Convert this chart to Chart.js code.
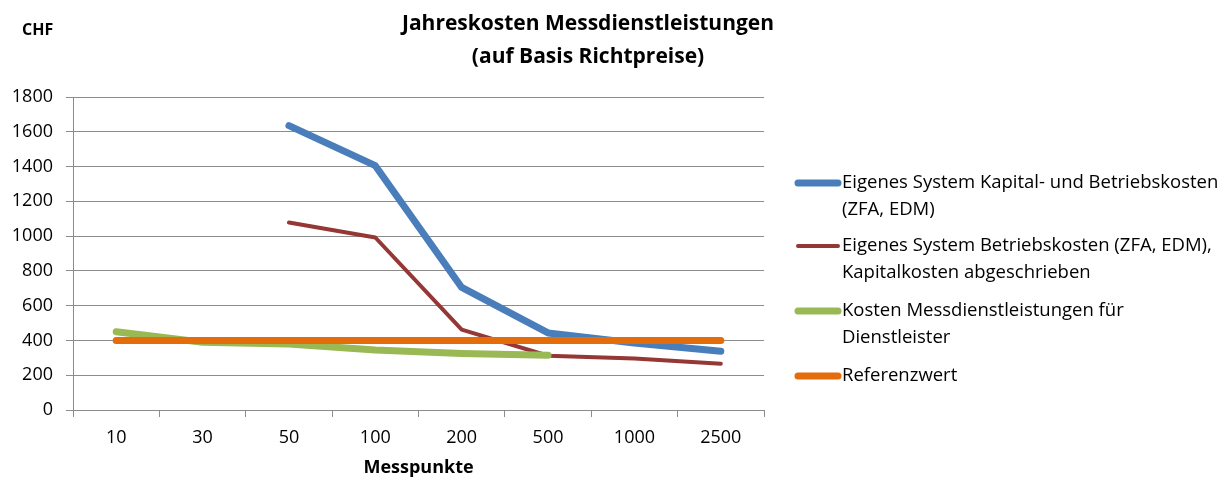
<!DOCTYPE html>
<html>
<head>
<meta charset="utf-8">
<script src="https://cdn.jsdelivr.net/npm/chart.js@4.4.1/dist/chart.umd.min.js"></script>
<style>
  html, body { margin: 0; padding: 0; background: #fff; }
  #wrap { width: 1222px; height: 479px; }
</style>
</head>
<body>
<div id="wrap"><canvas id="c" width="1222" height="479"></canvas></div>
<script>
const categories = ['10', '30', '50', '100', '200', '500', '1000', '2500'];
const blueValues = [null, null, 1635, 1405, 705, 443, 385, 338];
const redValues = [null, null, 1078, 992, 462, 312, 296, 266];
const greenValues = [450, 390, 380, 345, 325, 315, null, null];
const refValues = [400, 400, 400, 400, 400, 400, 400, 400];
const seriesNames = [
  ['Eigenes System Kapital- und Betriebskosten', '(ZFA, EDM)'],
  ['Eigenes System Betriebskosten (ZFA, EDM),', 'Kapitalkosten abgeschrieben'],
  ['Kosten Messdienstleistungen für', 'Dienstleister'],
  ['Referenzwert']
];
const titleLines = ['Jahreskosten Messdienstleistungen', '(auf Basis Richtpreise)'];
const yUnit = 'CHF';
const xTitle = 'Messpunkte';
const yMin = 0, yMax = 1800, yStep = 200;

const FONT = '"Open Sans", "Noto Sans", sans-serif';
const colors = ['#4A7EBB', '#953735', '#98B954', '#E46C0A'];
const widths = [7, 4, 7, 7];
const gridColor = '#8c8c8c';

const overlay = {
  id: 'overlay',
  afterDraw(chart) {
    const ctx = chart.ctx;
    ctx.save();
    ctx.fillStyle = '#000';
    ctx.textBaseline = 'middle';
    // title
    ctx.font = 'bold 21px ' + FONT;
    ctx.textAlign = 'center';
    ctx.fillText(titleLines[0], 588, 24);
    ctx.fillText(titleLines[1], 588, 57);
    // unit
    ctx.font = 'bold 16px ' + FONT;
    ctx.textAlign = 'left';
    ctx.fillText(yUnit, 22, 30);
    // legend
    ctx.font = '18.5px ' + FONT;
    const starts = [183, 246, 311, 376];
    const lh = 27;
    seriesNames.forEach((lines, i) => {
      const y0 = starts[i];
      ctx.strokeStyle = colors[i];
      ctx.lineWidth = widths[i];
      ctx.lineCap = 'round';
      ctx.beginPath();
      ctx.moveTo(798, y0);
      ctx.lineTo(838, y0);
      ctx.stroke();
      ctx.fillStyle = '#000';
      lines.forEach((t, j) => ctx.fillText(t, 842, y0 + j * lh));
    });
    ctx.restore();
  }
};

const mk = (label, data, i, order) => ({
  label: label.join(' '),
  data,
  borderColor: colors[i],
  backgroundColor: colors[i],
  borderWidth: widths[i],
  borderCapStyle: 'round',
  borderJoinStyle: 'round',
  pointRadius: 0,
  pointHoverRadius: 0,
  tension: 0,
  fill: false,
  order
});

new Chart(document.getElementById('c'), {
  type: 'line',
  data: {
    labels: categories,
    datasets: [
      mk(seriesNames[0], blueValues, 0, 3),
      mk(seriesNames[1], redValues, 1, 2),
      mk(seriesNames[2], greenValues, 2, 1),
      mk(seriesNames[3], refValues, 3, 0)
    ]
  },
  options: {
    responsive: false,
    animation: false,
    layout: { padding: { left: 0, right: 458, top: 97, bottom: 0 } },
    plugins: {
      legend: { display: false },
      title: { display: false },
      tooltip: { enabled: false }
    },
    scales: {
      x: {
        offset: true,
        grid: { offset: true, drawOnChartArea: false, color: gridColor, tickLength: 7 },
        border: { color: gridColor },
        ticks: { color: '#000', font: { family: FONT, size: 18 }, padding: 10, maxRotation: 0 },
        title: { display: true, text: xTitle, color: '#000', font: { family: FONT, size: 18, weight: 'bold' }, padding: { top: 4, bottom: 0 } },
        afterFit(axis) { axis.height = 69; }
      },
      y: {
        min: yMin, max: yMax,
        ticks: { stepSize: yStep, color: '#000', font: { family: FONT, size: 18 }, padding: 13,
                 callback: (v) => String(v) },
        grid: { color: gridColor, tickLength: 7 },
        border: { color: gridColor },
        afterFit(axis) { axis.width = 73; }
      }
    }
  },
  plugins: [overlay]
});
</script>
</body>
</html>
